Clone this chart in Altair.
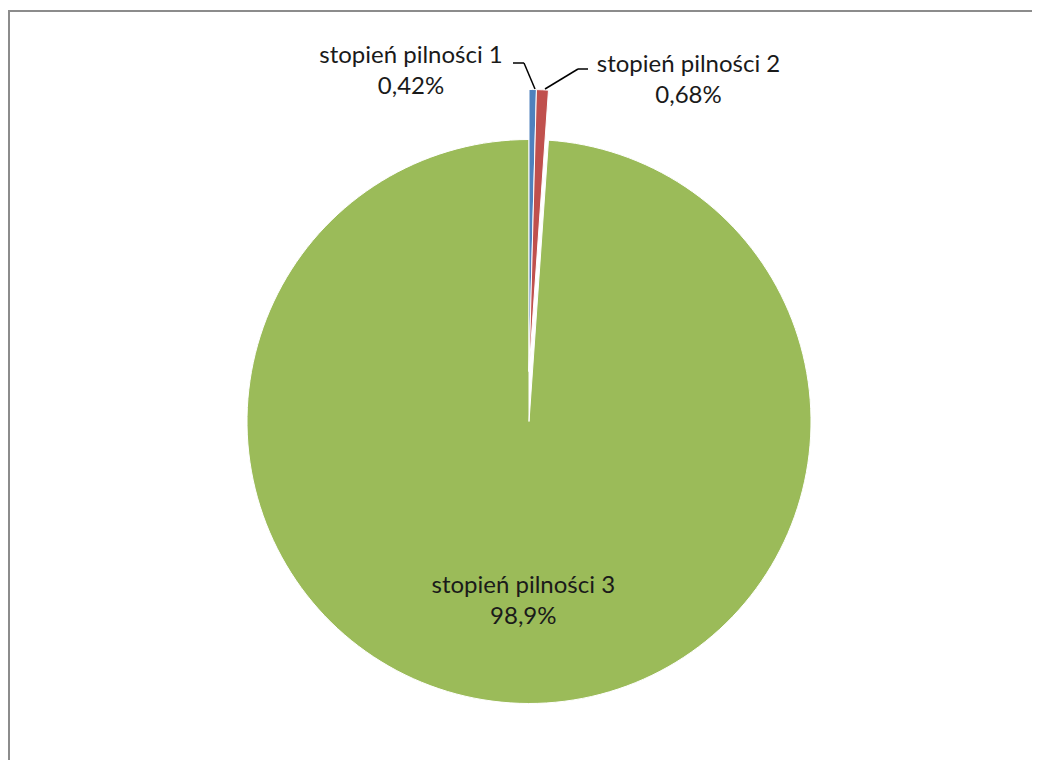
import altair as alt
import pandas as pd

# ---- data ----
categories = ["stopień pilności 1", "stopień pilności 2", "stopień pilności 3"]
values = [0.42, 0.68, 98.9]
value_labels = ["0,42%", "0,68%", "98,9%"]
exploded = [True, True, False]

# ---- styles / layout ----
colors = ["#4F81BD", "#C0504D", "#9BBB59"]
W, H = 1024, 752
CX, CY = 521, 413.5
R = 282
EXPLODE = 50
FONT = "Lato"
FS = 24
LH = 31
TXT = "#1a1a1a"

df = pd.DataFrame({
    "cat": categories,
    "val": values,
    "lab": value_labels,
    "idx": list(range(len(categories))),
    "exploded": exploded,
})
df["text"] = df["cat"] + "\n" + df["lab"]

base = alt.Chart(df)
theta = alt.Theta("val:Q", stack=True)
color = alt.Color("cat:N", scale=alt.Scale(domain=categories, range=colors), legend=None)
order = alt.Order("idx:Q")

pie_main = base.mark_arc(radius=R, x=CX, y=CY, stroke="white", strokeWidth=1).encode(
    theta=theta, color=color, order=order,
    opacity=alt.condition(alt.datum.exploded, alt.value(0), alt.value(1)),
)
pie_expl = base.mark_arc(radius=R, x=CX, y=CY - EXPLODE, stroke="white", strokeWidth=1).encode(
    theta=theta, color=color, order=order,
    opacity=alt.condition(alt.datum.exploded, alt.value(1), alt.value(0)),
)

# inside label for the big slice (placed at slice mid-angle)
inner_label = base.mark_text(
    x=CX, y=CY, radius=165, font=FONT, fontSize=FS, color=TXT,
    lineBreak="\n", lineHeight=LH, baseline="middle", align="center",
).encode(
    theta=theta, order=order, text="text:N",
    opacity=alt.condition(alt.datum.exploded, alt.value(0), alt.value(1)),
)

# outside labels for exploded slices
label_pos = {categories[0]: (403, 48), categories[1]: (680.5, 57)}
outer_labels = []
for c in categories:
    if c in label_pos:
        px, py = label_pos[c]
        outer_labels.append(
            alt.Chart(df).transform_filter(alt.datum.cat == c).mark_text(
                font=FONT, fontSize=FS, color=TXT, lineBreak="\n", lineHeight=LH,
                baseline="middle", align="center",
            ).encode(x=alt.value(px), y=alt.value(py), text="text:N")
        )

# leader lines
leaders = [
    [(505, 55), (516, 55), (527, 81)],
    [(537, 81), (570, 61), (580, 61)],
]
segs = []
for pts in leaders:
    for (x1, y1), (x2, y2) in zip(pts[:-1], pts[1:]):
        segs.append(
            alt.Chart(df).transform_filter(alt.datum.idx == 0).mark_rule(
                color="black", strokeWidth=1.5
            ).encode(x=alt.value(x1), y=alt.value(y1), x2=alt.value(x2), y2=alt.value(y2))
        )

# chart border (top and left visible)
border = [
    alt.Chart(df).transform_filter(alt.datum.idx == 0).mark_rule(color="#8c8c8c", strokeWidth=2).encode(
        y=alt.value(3)),
    alt.Chart(df).transform_filter(alt.datum.idx == 0).mark_rule(color="#8c8c8c", strokeWidth=2).encode(
        x=alt.value(1), y=alt.value(3), y2=alt.value(H)),
]

chart = alt.layer(
    *border, pie_main, pie_expl, inner_label, *outer_labels, *segs
).properties(
    width=W, height=H, padding=0, autosize=alt.AutoSizeParams(type="none"),
    background="white",
).configure_view(stroke="transparent", strokeWidth=0, fill="white")

chart.save("out.html", embed_options={"renderer": "svg", "actions": False})
